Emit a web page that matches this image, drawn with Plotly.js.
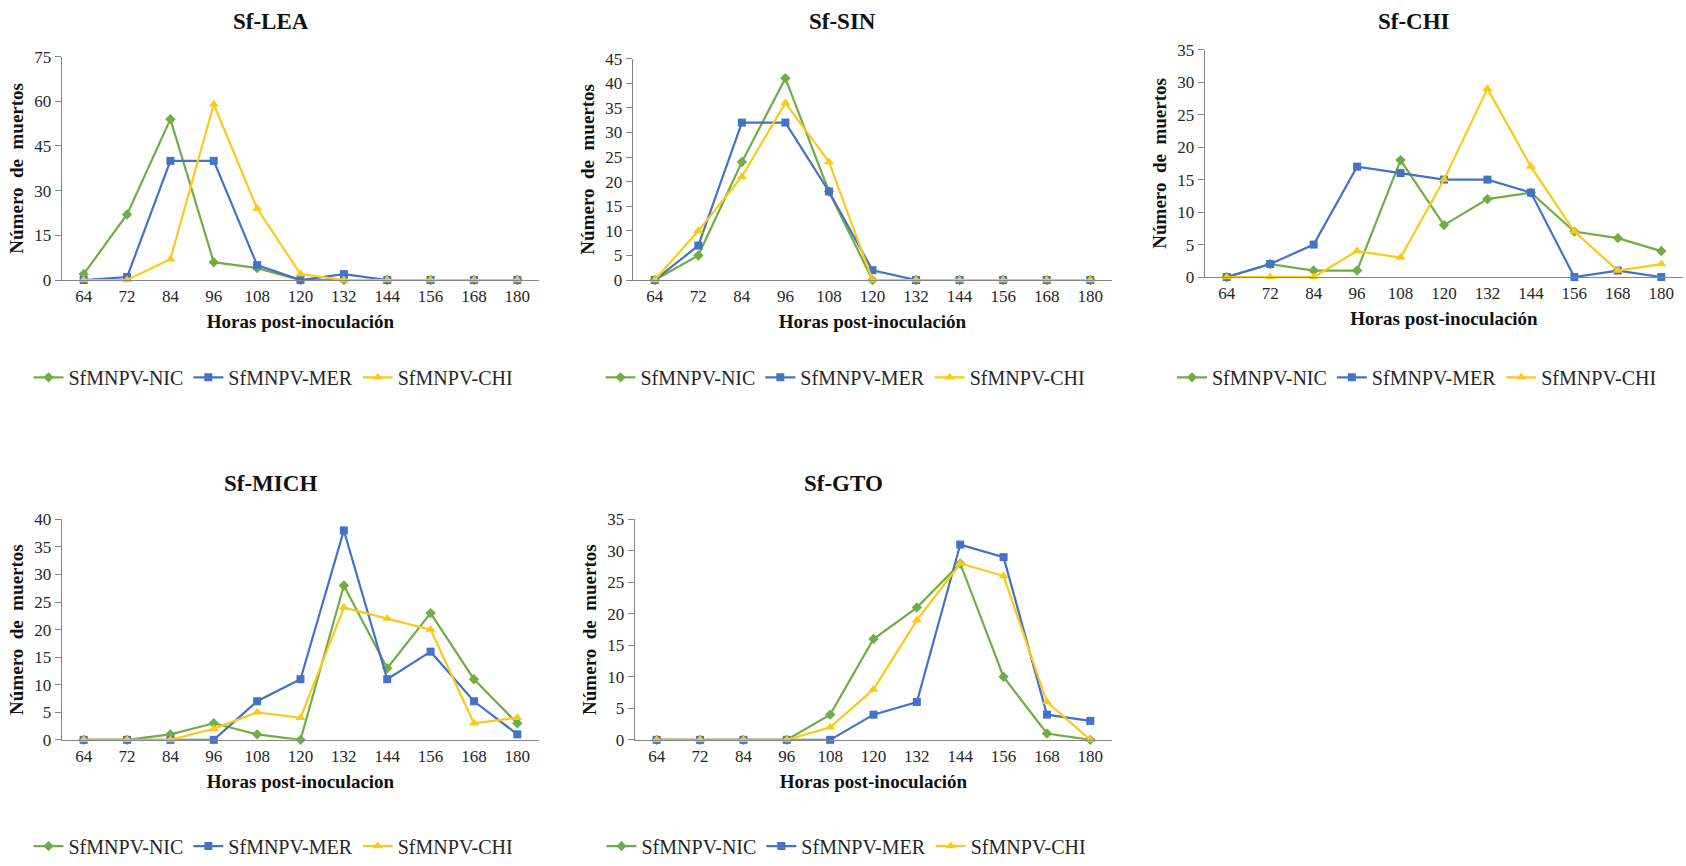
<!DOCTYPE html>
<html>
<head>
<meta charset="utf-8">
<script src="https://cdn.plot.ly/plotly-3.0.1.min.js"></script>
<style>html,body{margin:0;padding:0;background:#fff;}#chart{width:1686px;height:866px;}</style>
</head>
<body>
<div id="chart"></div>
<script>
const hours = ["64","72","84","96","108","120","132","144","156","168","180"];
const seriesNames = ["SfMNPV-NIC","SfMNPV-MER","SfMNPV-CHI"];
const panelTitles = ["Sf-LEA","Sf-SIN","Sf-CHI","Sf-MICH","Sf-GTO"];
const xTitles = ["Horas post-inoculación","Horas post-inoculación","Horas post-inoculación","Horas post-inoculacion","Horas post-inoculación"];
const yTitle = "Número\u00a0\u00a0de\u00a0\u00a0muertos";

const leaNIC = [2,22,54,6,4,0,0,0,0,0,0];
const leaMER = [0,1,40,40,5,0,2,0,0,0,0];
const leaCHI = [0,0,7,59,24,2,0,0,0,0,0];

const sinNIC = [0,5,24,41,18,0,0,0,0,0,0];
const sinMER = [0,7,32,32,18,2,0,0,0,0,0];
const sinCHI = [0,10,21,36,24,0,0,0,0,0,0];

const chiNIC = [0,2,1,1,18,8,12,13,7,6,4];
const chiMER = [0,2,5,17,16,15,15,13,0,1,0];
const chiCHI = [0,0,0,4,3,15,29,17,7,1,2];

const michNIC = [0,0,1,3,1,0,28,13,23,11,3];
const michMER = [0,0,0,0,7,11,38,11,16,7,1];
const michCHI = [0,0,0,2,5,4,24,22,20,3,4];

const gtoNIC = [0,0,0,0,4,16,21,28,10,1,0];
const gtoMER = [0,0,0,0,0,4,6,31,29,4,3];
const gtoCHI = [0,0,0,0,2,8,19,28,26,6,0];

const yMax = [75,45,35,40,35];
const yStep = [15,5,5,5,5];

const panels = [
  [leaNIC, leaMER, leaCHI],
  [sinNIC, sinMER, sinCHI],
  [chiNIC, chiMER, chiCHI],
  [michNIC, michMER, michCHI],
  [gtoNIC, gtoMER, gtoCHI]
];

const colors = ["#70AD47","#4472C4","#FCC917"];
const symbols = ["diamond","square","triangle-up"];
const msizes = [8,8,9];

const W = 1686, H = 866;
// pixel boxes: [left, right, top, zero line]
const boxes = [
  [62, 539, 57, 282],
  [633, 1112, 59, 282],
  [1205, 1683, 50, 279],
  [62, 539, 523, 745],
  [635, 1112, 523, 745]
];
const titleY = [22, 22, 22, 487, 487];
const legendY = [380, 380, 380, 852, 852];

const font = "Liberation Serif, Times New Roman, serif";
const traces = [];
const layout = {
  width: W, height: H,
  margin: {l:0, r:0, t:0, b:0},
  paper_bgcolor: "#fff", plot_bgcolor: "#fff",
  font: {family: font, color: "#262626", size: 17},
  annotations: [],
  showlegend: true
};

panels.forEach((p, i) => {
  const n = i + 1;
  const xa = n === 1 ? "x" : "x" + n;
  const ya = n === 1 ? "y" : "y" + n;
  const lg = n === 1 ? "legend" : "legend" + n;
  p.forEach((vals, s) => {
    traces.push({
      type: "scatter", mode: "lines+markers",
      x: hours, y: vals, name: seriesNames[s],
      xaxis: xa, yaxis: ya, legend: lg,
      line: {color: colors[s], width: 2.2},
      marker: {color: colors[s], symbol: symbols[s], size: msizes[s]},
      cliponaxis: false
    });
  });
  const b = boxes[i];
  const xd = [b[0]/W, b[1]/W];
  const yd = [1 - b[3]/H, 1 - b[2]/H];
  layout[(n===1?"xaxis":"xaxis"+n)] = {
    domain: xd, anchor: ya, type: "category",
    range: [-0.5, 10.5],
    showgrid: false, zeroline: false,
    showline: true, linecolor: "#868686", linewidth: 1.3,
    ticks: "", tickfont: {family: font, size: 17, color: "#262626"},
    title: {text: xTitles[i], font: {family: font, size: 19, color: "#111", weight: "bold"}, standoff: 10},
    fixedrange: true
  };
  layout[(n===1?"yaxis":"yaxis"+n)] = {
    domain: yd, anchor: xa,
    range: [0, yMax[i]], dtick: yStep[i], tick0: 0,
    showgrid: false, zeroline: false,
    showline: true, linecolor: "#868686", linewidth: 1.3,
    ticks: "outside", ticklen: 6, tickcolor: "#868686",
    tickfont: {family: font, size: 17, color: "#262626"},
    title: {text: yTitle, font: {family: font, size: 19, color: "#111", weight: "bold"}, standoff: 5},
    fixedrange: true
  };
  const cx = (b[0] + b[1]) / 2;
  layout.annotations.push({
    text: "<b>" + panelTitles[i] + "</b>",
    xref: "paper", yref: "paper",
    x: (cx - 30) / W, y: 1 - titleY[i] / H,
    xanchor: "center", yanchor: "middle", showarrow: false,
    font: {family: font, size: 23, color: "#111"}
  });
  layout[lg] = {
    orientation: "h",
    x: (cx - 27) / W, xanchor: "center",
    y: 1 - legendY[i] / H, yanchor: "middle",
    font: {family: font, size: 20, color: "#262626"},
    bgcolor: "rgba(0,0,0,0)",
    itemwidth: 30, tracegroupgap: 0
  };
});

Plotly.newPlot("chart", traces, layout, {displayModeBar: false, staticPlot: true});
</script>
</body>
</html>
